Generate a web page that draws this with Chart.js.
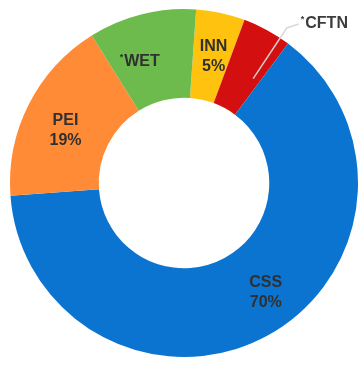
<!DOCTYPE html>
<html>
<head>
<meta charset="utf-8">
<script src="https://cdn.jsdelivr.net/npm/chart.js@4.4.0/dist/chart.umd.min.js"></script>
<style>
    html, body { margin: 0; padding: 0; background: #fff; }
    #wrap { width: 363px; height: 365px; }
</style>
</head>
<body>
<div id="wrap"><canvas id="shareChart"></canvas></div>
<script>
// Slices, clockwise from the top
const categories = ['INN', '*CFTN', 'CSS', 'PEI', '*WET'];
const shares = [5, 5, 70, 19, 11];
const showPercent = [true, false, true, true, false];
const sliceColors = ['#FFC20E', '#D3100F', '#0B74D1', '#FF8B36', '#6DBB4C'];

// Label placement tweaks: angle shift (deg) and position across the ring (0 = inner, 1 = outer)
const labelAngleShift = [1, 5, -8, -3, -6];
const labelRing = [0.5, 0.45, 0.58, 0.5, 0.5];

const FONT = 'bold 16px "Liberation Sans", Arial, sans-serif';
const TEXT_COLOR = '#303030';

// Draws "name", with a small raised asterisk when the name starts with '*'
function drawName(ctx, text, x, y, align) {
    let star = text.startsWith('*');
    let name = star ? text.slice(1) : text;
    ctx.font = FONT;
    let w = ctx.measureText(name).width;
    ctx.font = 'bold 9px "Liberation Sans", Arial, sans-serif';
    let sw = star ? ctx.measureText('*').width + 1 : 0;
    let left = align === 'left' ? x : x - (w + sw) / 2;
    ctx.textAlign = 'left';
    ctx.textBaseline = 'middle';
    if (star) ctx.fillText('*', left, y - 4);
    ctx.font = FONT;
    ctx.fillText(name, left + sw, y);
}

const sliceLabels = {
    id: 'sliceLabels',
    afterDatasetsDraw(chart) {
        const ctx = chart.ctx;
        const meta = chart.getDatasetMeta(0);
        ctx.save();
        ctx.fillStyle = TEXT_COLOR;
        meta.data.forEach((arc, i) => {
            const p = arc.getProps(['x', 'y', 'startAngle', 'endAngle', 'innerRadius', 'outerRadius']);
            const mid = (p.startAngle + p.endAngle) / 2 + labelAngleShift[i] * Math.PI / 180;
            const r = p.innerRadius + (p.outerRadius - p.innerRadius) * labelRing[i];
            const x = p.x + r * Math.cos(mid);
            const y = p.y + r * Math.sin(mid);

            if (i === 1) {
                // small slice: leader line out to the label
                const ox = p.x + (p.outerRadius + 12) * Math.cos(mid);
                const oy = p.y + (p.outerRadius + 12) * Math.sin(mid);
                ctx.strokeStyle = 'rgba(215,215,215,0.95)';
                ctx.lineWidth = 1.5;
                ctx.beginPath();
                ctx.moveTo(x, y);
                ctx.lineTo(ox, oy);
                ctx.lineTo(ox + 12, oy - 4);
                ctx.stroke();
                ctx.fillStyle = '#3c3c3c';
                drawName(ctx, categories[i], ox + 14, oy - 4, 'left');
                ctx.fillStyle = TEXT_COLOR;
                return;
            }

            if (showPercent[i]) {
                drawName(ctx, categories[i], x, y - 10, 'center');
                ctx.font = FONT;
                ctx.textAlign = 'center';
                ctx.fillText(shares[i] + '%', x, y + 10);
            } else {
                drawName(ctx, categories[i], x, y, 'center');
            }
        });
        ctx.restore();
    }
};

const ctx = document.getElementById('shareChart').getContext('2d');
const shareChart = new Chart(ctx, {
    type: 'doughnut',
    data: {
        labels: categories,
        datasets: [{
            data: shares,
            backgroundColor: sliceColors,
            borderWidth: 0
        }]
    },
    options: {
        responsive: true,
        maintainAspectRatio: false,
        animation: false,
        rotation: 4,
        cutout: '49%',
        layout: {
            padding: { left: 10, right: 5, top: 9, bottom: 8 }
        },
        plugins: {
            legend: { display: false },
            tooltip: { enabled: false }
        }
    },
    plugins: [sliceLabels]
});
</script>
</body>
</html>
